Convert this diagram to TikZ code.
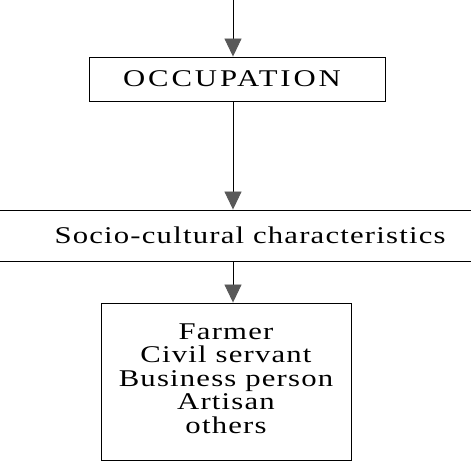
\documentclass[tikz,border=0pt]{standalone}
\usepackage{fontspec}
\newfontfamily\boxfont[FakeStretch=1.28,LetterSpace=5]{Liberation Serif}
\newfontfamily\capsfont[FakeStretch=1.28,LetterSpace=12]{Liberation Serif}
\usetikzlibrary{arrows.meta}
\begin{document}
\begin{tikzpicture}[x=1pt, y=1pt, >={Triangle[length=18pt, width=17pt, fill=black!65, color=black!65]}, line width=0.9pt]
\tikzset{box/.style={draw, rectangle, inner sep=0pt, font=\boxfont\fontsize{24}{23.3}\selectfont}}
\clip (0,0) rectangle (471,-462);
\fill[white] (0,0) rectangle (471,-462);
\node[box, minimum width=296pt, minimum height=44pt, font=\capsfont\fontsize{24}{23.3}\selectfont] (occ) at (237,-79) {OCCUPATION\hspace*{10pt}};
\node[box, minimum width=560pt, minimum height=51pt] (soc) at (250,-235.5) {Socio-cultural characteristics};
\node[box, minimum width=250pt, minimum height=157pt, align=center] (kinds) at (226,-381.5) {\raisebox{4pt}{\begin{tabular}{@{}c@{}}Farmer\\Civil servant\\Business person\\Artisan\\others\end{tabular}}};
\coordinate (top) at (233,0);
\draw[->] (top) -- (top |- occ.north);
\draw[->] (occ.south -| top) -- (top |- soc.north);
\draw[->] (soc.south -| top) -- (top |- kinds.north);
\end{tikzpicture}
\end{document}
